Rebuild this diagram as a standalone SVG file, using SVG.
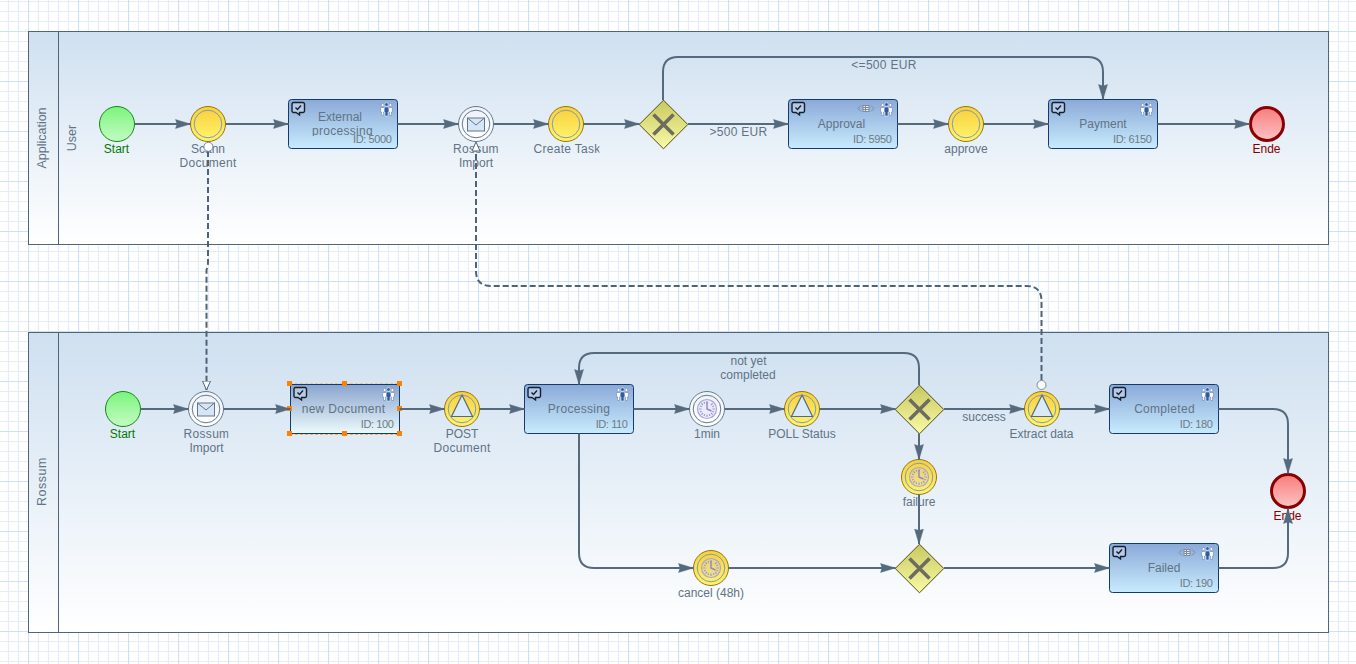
<svg xmlns="http://www.w3.org/2000/svg" width="1356" height="664" viewBox="0 0 1356 664">
<style>
text{font-family:"Liberation Sans",Arial,sans-serif;font-size:12px;fill:#627385;text-anchor:middle}
.id{text-anchor:end;fill:#6f7a86;font-size:11px;letter-spacing:-.4px}
.w{letter-spacing:.3px}
.rot{font-size:12.5px}
.g{fill:#007a00}.r{fill:#8a0000}
.lane{fill:url(#laneG);stroke:#50647a;stroke-width:1}
.hdr{fill:none;stroke:#50647a;stroke-width:1}
.task{fill:url(#taskG);stroke:#123c6e;stroke-width:1}
.ev{fill:url(#evG);stroke:#97750f;stroke-width:1}
.evi{fill:none;stroke:#7f9ab8;stroke-width:1}
.wh{fill:url(#whG);stroke:#66798d;stroke-width:1}
.gw{fill:url(#gwG);stroke:#4e4e10;stroke-width:1}
.x{stroke:#6c6c60;stroke-width:3.6;fill:none}
.c{fill:none;stroke:#566a7e;stroke-width:2}
.arrow{marker-end:url(#ah)}
.d{fill:none;stroke:#4f6378;stroke-width:2;stroke-dasharray:6 3}
.h{fill:#fa8305}
.dot{fill:#fff;stroke:#7b8b9a;stroke-width:1}
</style>
<defs>
<pattern id="grid" width="50" height="50" patternUnits="userSpaceOnUse" x="-22" y="-19">
<rect width="50" height="50" fill="#fff"/>
<path d="M10.5 0V50M20.5 0V50M30.5 0V50M40.5 0V50M0 10.5H50M0 20.5H50M0 30.5H50M0 40.5H50" stroke="#e5edf8" stroke-width="1.2" fill="none"/>
<path d="M.5 0V50M0 .5H50" stroke="#cfe0f3" stroke-width="1.2" fill="none"/>
</pattern>
<linearGradient id="laneG" x1="0" y1="0" x2="0" y2="1"><stop offset="0" stop-color="#cfe0f0"/><stop offset="1" stop-color="#fff"/></linearGradient>
<linearGradient id="taskG" x1="0" y1="0" x2="0" y2="1"><stop offset="0" stop-color="#8aa9d8"/><stop offset="1" stop-color="#c9ebfd"/></linearGradient>
<linearGradient id="selG" x1="0" y1="0" x2="0" y2="1"><stop offset="0" stop-color="#8aa4cf"/><stop offset="1" stop-color="#ecfafc"/></linearGradient>
<linearGradient id="evG" x1="0" y1="0" x2="0" y2="1"><stop offset="0" stop-color="#f8cf3a"/><stop offset="1" stop-color="#fff56e"/></linearGradient>
<linearGradient id="whG" x1="0" y1="0" x2="0" y2="1"><stop offset="0" stop-color="#eef3f9"/><stop offset="1" stop-color="#fff"/></linearGradient>
<linearGradient id="gwG" x1="0" y1="0" x2="0" y2="1"><stop offset="0" stop-color="#c8c860"/><stop offset="1" stop-color="#fafaa8"/></linearGradient>
<linearGradient id="stG" x1="0" y1="0" x2="0" y2="1"><stop offset="0" stop-color="#7cf47c"/><stop offset="1" stop-color="#c4fcc4"/></linearGradient>
<linearGradient id="enG" x1="0" y1="0" x2="0" y2="1"><stop offset="0" stop-color="#f87c7c"/><stop offset="1" stop-color="#fcc4c4"/></linearGradient>
<marker id="ah" markerUnits="userSpaceOnUse" markerWidth="17" markerHeight="12" refX="15.5" refY="6" orient="auto"><path d="M.5 1.5L15.5 6L.5 10.5L2 6z" fill="#566a7e" stroke="#566a7e" stroke-width=".4"/></marker>
<marker id="oh" markerUnits="userSpaceOnUse" markerWidth="11" markerHeight="10" refX="9.5" refY="5" orient="auto"><path d="M.5 1L9.5 5L.5 9z" fill="#fff" stroke="#4f6378"/></marker>
<g id="icoTask"><path d="M1.5 .5H11a1.5 1.5 0 0 1 1.5 1.5V9a1.5 1.5 0 0 1-1.5 1.5H7.5V13L4 10.5H1.5A1.5 1.5 0 0 1 0 9V2A1.5 1.5 0 0 1 1.5 .5z" fill="#fff" fill-opacity=".3" stroke="#15202c" stroke-width="1.4"/><path d="M3.5 5.5L5.5 7.5L9 3.5" fill="none" stroke="#15202c" stroke-width="1.4"/></g>
<g id="icoUser"><g fill="#fff" stroke="#7c97bf" stroke-width=".8"><circle cx="2.6" cy="3" r="1.5"/><path d="M.6 5.5h4v4.5h-1v3.5h-2V10h-1z"/><circle cx="10.4" cy="3" r="1.5"/><path d="M8.4 5.5h4V10h-1v3.5h-2V10h-1z"/></g><circle cx="6.5" cy="2.5" r="1.8" fill="#2f5ba0" stroke="#fff" stroke-width=".5"/><path d="M4.4 5h4.2l.4 5H8v4H5v-4H4z" fill="#2f5ba0" stroke="#fff" stroke-width=".5"/></g>
<g id="icoForm" fill="none" stroke="#7f8c9b"><path d="M3 .5L0 3.5L3 6.5M13 .5L16 3.5L13 6.5"/><rect x="5" y=".5" width="6" height="6" fill="#e8edf3"/><path d="M5 2.5H11M5 4.5H11M7.5 .5V6.5"/></g>
<g id="icoMail"><rect x="-8.5" y="-6" width="17" height="13" fill="#d6e6f6" stroke="#62778e" stroke-width="1"/><path d="M-8.5-6L0 1L8.5-6" fill="none" stroke="#62778e"/></g>
<g id="icoTri"><path d="M0-14L10.5 7.5H-10.5z" fill="#d9e9f7" stroke="#4f6b8a" stroke-width="1.2"/></g>
<g id="icoClock"><circle r="9.5" fill="#c8c8f0" fill-opacity=".25" stroke="#a9a4dc" stroke-width="1.2"/><path d="M0-8V-5.5M0 5.5V8M-8 0H-5.5M5.5 0H8M-5.7-5.7L-4-4M5.7 5.7L4 4M-5.7 5.7L-4 4M5.7-5.7L4-4M-3-7L-2.3-5.3M3 7L2.3 5.3M-7-3L-5.3-2.3M7 3L5.3 2.3M-3 7L-2.3 5.3M-7 3L-5.3 2.3M7-3L5.3-2.3" stroke="#9a94d6" stroke-width="1.1"/><path d="M0-7V0L4.5 2" fill="none" stroke="#8c86ce" stroke-width="1.4"/></g>
<g id="gwS"><path d="M0-24.3L24.3 0L0 24.3L-24.3 0z" class="gw"/><path d="M-10-10L10 10M10-10L-10 10" class="x"/></g>
<clipPath id="c1"><rect x="290" y="100" width="83" height="36"/></clipPath>
<clipPath id="c2"><rect x="440" y="135" width="58.5" height="40"/></clipPath>
<clipPath id="c3"><rect x="520" y="135" width="79.5" height="30"/></clipPath>
<clipPath id="c4"><rect x="170" y="420" width="58.5" height="40"/></clipPath>
<clipPath id="c5"><rect x="530" y="395" width="80" height="30"/></clipPath>
</defs>
<rect width="1356" height="664" fill="url(#grid)"/>
<g id="lane-application"><rect class="lane" x="28.5" y="31.5" width="1300" height="213"/><path class="hdr" d="M58.5 31.5V244.5"/>
<text class="rot" transform="translate(46 138) rotate(-90)">Application</text><text class="rot" transform="translate(75.5 138) rotate(-90)">User</text></g>
<g id="lane-rossum"><rect class="lane" x="28.5" y="332.5" width="1300" height="300"/><path class="hdr" d="M58.5 332.5V632.5"/>
<text class="rot" style="letter-spacing:.5px" transform="translate(45.5 481.5) rotate(-90)">Rossum</text></g>

<g id="n-start1"><circle cx="117" cy="124" r="17.5" fill="url(#stG)" stroke="#0f8a0f"/><text class="g" x="116.5" y="153">Start</text></g>
<g id="n-scann"><circle cx="208" cy="124" r="17.5" class="ev"/><circle cx="208" cy="124" r="13.8" class="evi"/><text x="208" y="153">Scann</text><text class="w" x="208" y="167">Document</text></g>
<g id="n-external"><rect class="task" x="288.5" y="99.5" width="109" height="49" rx="3"/><use href="#icoTask" x="292" y="102"/><use href="#icoUser" x="380" y="102"/><g clip-path="url(#c1)"><text x="340" y="121">External</text><text class="w" x="342.5" y="135">processing</text></g><text class="id" x="391.5" y="143">ID: 5000</text></g>
<g id="n-rossum1"><circle cx="476" cy="124" r="17.5" class="wh"/><circle cx="476" cy="124" r="13.8" class="wh"/><use href="#icoMail" x="476" y="124"/><g clip-path="url(#c2)"><text class="w" x="476" y="153">Rossum</text><text x="476" y="167">Import</text></g></g>
<g id="n-create"><circle cx="566" cy="124" r="17.5" class="ev"/><circle cx="566" cy="124" r="13.8" class="evi"/><text class="w" x="567" y="153" clip-path="url(#c3)">Create Task</text></g>
<g id="n-gw1"><use href="#gwS" x="663.5" y="124.5"/></g>
<g id="n-approval"><rect class="task" x="788.5" y="99.5" width="109" height="49" rx="3"/><use href="#icoTask" x="792" y="102"/><use href="#icoForm" x="858" y="105"/><use href="#icoUser" x="880" y="102"/><text x="841.5" y="128">Approval</text><text class="id" x="891.5" y="143">ID: 5950</text></g>
<g id="n-approve"><circle cx="966" cy="124" r="17.5" class="ev"/><circle cx="966" cy="124" r="13.8" class="evi"/><text x="966" y="153">approve</text></g>
<g id="n-payment"><rect class="task" x="1048.5" y="99.5" width="109" height="49" rx="3"/><use href="#icoTask" x="1052" y="102"/><use href="#icoUser" x="1140" y="102"/><text x="1103" y="128">Payment</text><text class="id" x="1151.5" y="143">ID: 6150</text></g>
<g id="n-end1"><circle cx="1267" cy="124" r="16.5" fill="url(#enG)" stroke="#8a0000" stroke-width="3"/><text class="r" x="1266.5" y="153">Ende</text></g>

<g id="n-start2"><circle cx="123" cy="409" r="17.5" fill="url(#stG)" stroke="#0f8a0f"/><text class="g" x="122.5" y="438">Start</text></g>
<g id="n-rossum2"><circle cx="206" cy="409" r="17.5" class="wh"/><circle cx="206" cy="409" r="13.8" class="wh"/><use href="#icoMail" x="206" y="409"/><g clip-path="url(#c4)"><text class="w" x="206.5" y="438">Rossum</text><text x="206.5" y="452">Import</text></g></g>
<g id="n-new"><path d="M290 384H400M290 434.5H400" stroke="#fa8305" stroke-width="1" stroke-dasharray="3 2" fill="none" opacity=".6"/><rect x="290.5" y="384.5" width="109" height="49" fill="url(#selG)" stroke="#123c6e"/><use href="#icoTask" x="294" y="387"/><use href="#icoUser" x="382" y="387"/><text class="w" x="343.5" y="413">new Document</text><text class="id" x="393.5" y="428">ID: 100</text>
<rect class="h" x="287" y="381" width="5" height="5"/><rect class="h" x="342" y="381" width="5" height="5"/><rect class="h" x="397" y="381" width="5" height="5"/><rect class="h" x="287" y="406" width="5" height="5"/><rect class="h" x="397" y="406" width="5" height="5"/><rect class="h" x="287" y="431" width="5" height="5"/><rect class="h" x="342" y="431" width="5" height="5"/><rect class="h" x="397" y="431" width="5" height="5"/></g>
<g id="n-post"><circle cx="462" cy="409" r="17.5" class="ev"/><circle cx="462" cy="409" r="13.8" class="evi"/><use href="#icoTri" x="462" y="409"/><text x="462" y="438">POST</text><text class="w" x="462" y="452">Document</text></g>
<g id="n-processing"><rect class="task" x="524.5" y="384.5" width="109" height="49" rx="3"/><use href="#icoTask" x="528" y="387"/><use href="#icoUser" x="616" y="387"/><text class="w" x="579" y="413" clip-path="url(#c5)">Processing</text><text class="id" x="627.5" y="428">ID: 110</text></g>
<g id="n-1min"><circle cx="707" cy="409" r="17.5" class="wh"/><circle cx="707" cy="409" r="13.8" class="wh"/><use href="#icoClock" x="707" y="409"/><text x="707" y="438">1min</text></g>
<g id="n-poll"><circle cx="802" cy="409" r="17.5" class="ev"/><circle cx="802" cy="409" r="13.8" class="evi"/><use href="#icoTri" x="802" y="409"/><text x="802" y="438">POLL Status</text></g>
<g id="n-gw2"><use href="#gwS" x="919.5" y="409.5"/></g>
<g id="n-extract"><circle cx="1042" cy="409" r="17.5" class="ev"/><circle cx="1042" cy="409" r="13.8" class="evi"/><use href="#icoTri" x="1042" y="409"/><text x="1041.5" y="438">Extract data</text></g>
<g id="n-completed"><rect class="task" x="1109.5" y="384.5" width="109" height="49" rx="3"/><use href="#icoTask" x="1113" y="387"/><use href="#icoUser" x="1201" y="387"/><text class="w" x="1164.5" y="413">Completed</text><text class="id" x="1212.5" y="428">ID: 180</text></g>
<g id="n-failure"><circle cx="919" cy="477" r="17.5" class="ev"/><circle cx="919" cy="477" r="13.8" class="evi"/><use href="#icoClock" x="919" y="477"/><text x="919" y="506">failure</text></g>
<g id="n-cancel"><circle cx="711" cy="568" r="17.5" class="ev"/><circle cx="711" cy="568" r="13.8" class="evi"/><use href="#icoClock" x="711" y="568"/><text x="711" y="597">cancel (48h)</text></g>
<g id="n-gw3"><use href="#gwS" x="919.5" y="568.5"/></g>
<g id="n-failed"><rect class="task" x="1109.5" y="543.5" width="109" height="49" rx="3"/><use href="#icoTask" x="1113" y="546"/><use href="#icoForm" x="1179" y="549"/><use href="#icoUser" x="1201" y="546"/><text x="1164" y="572">Failed</text><text class="id" x="1212.5" y="587">ID: 190</text></g>
<g id="n-end2"><circle cx="1288" cy="491" r="16.5" fill="url(#enG)" stroke="#8a0000" stroke-width="3"/><text class="r" x="1287.5" y="520">Ende</text></g>

<g id="connectors">
<path class="c arrow" d="M134.5 124H190.5"/><path class="c arrow" d="M225.5 124H288.5"/><path class="c arrow" d="M397.5 124H458.5"/><path class="c arrow" d="M493.5 124H548.5"/><path class="c arrow" d="M583.5 124H639.5"/>
<path class="c" d="M688 124H773"/><path class="c arrow" d="M770 124H788.5"/><path class="c arrow" d="M897.5 124H948.5"/><path class="c arrow" d="M983.5 124H1048.5"/><path class="c arrow" d="M1157.5 124H1249.5"/>
<path class="c arrow" d="M663 100V72Q663 57 678 57H1088Q1103 57 1103 72V99.5"/>
<path class="c arrow" d="M140.5 409H188.5"/><path class="c arrow" d="M223.5 409H290.5"/><path class="c arrow" d="M399.5 409H444.5"/><path class="c arrow" d="M479.5 409H524.5"/><path class="c arrow" d="M633.5 409H689.5"/><path class="c arrow" d="M724.5 409H784.5"/><path class="c arrow" d="M819.5 409H895.5"/><path class="c arrow" d="M944 409H1024.5"/><path class="c arrow" d="M1059.5 409H1109.5"/>
<path class="c arrow" d="M919 385V368Q919 353 904 353H594Q579 353 579 368V384.5"/>
<path class="c arrow" d="M919 433.5V459.5"/><path class="c arrow" d="M919 494.5V544"/>
<path class="c arrow" d="M579 433.5V553Q579 568 594 568H693.5"/><path class="c arrow" d="M728.5 568H895.5"/><path class="c arrow" d="M944 568H1109.5"/>
<path class="c arrow" d="M1218.5 409H1273Q1288 409 1288 424V473.5"/><path class="c arrow" d="M1218.5 568H1273Q1288 568 1288 553V508.5"/>
<path class="d" d="M208 151V262Q208 266 206.5 270V390" marker-end="url(#oh)"/><circle class="dot" cx="208.4" cy="146.8" r="4.5"/>
<path class="d" d="M1041.5 380V301Q1041.5 286 1026.5 286H491Q476 286 476 271V142" marker-end="url(#oh)"/><circle class="dot" cx="1041.5" cy="385" r="4.5"/>
</g>
<g id="connector-labels">
<text class="w" x="884" y="69">&lt;=500 EUR</text><text class="w" x="738.5" y="136">&gt;500 EUR</text><text x="748.5" y="365">not yet</text><text x="748" y="379">completed</text><text x="984" y="421">success</text>
</g>
</svg>
